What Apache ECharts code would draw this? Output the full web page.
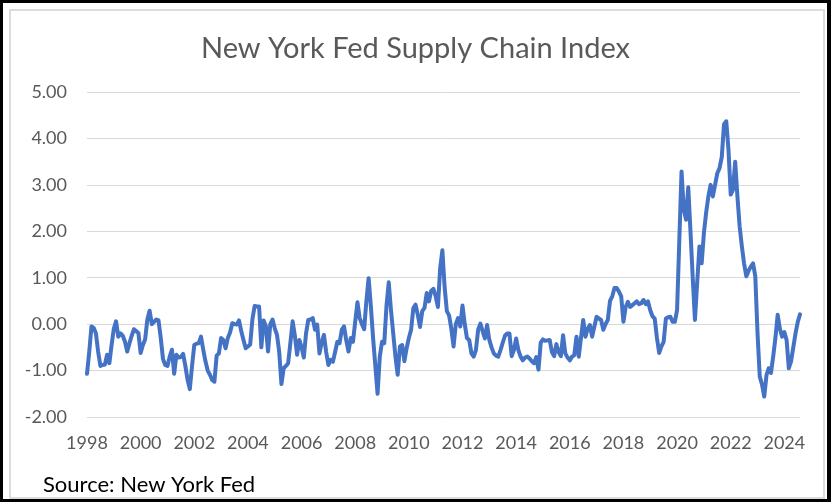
<!DOCTYPE html>
<html><head><meta charset="utf-8">
<script src="https://cdn.jsdelivr.net/npm/echarts@6/dist/echarts.min.js"></script>
<style>
html,body{margin:0;padding:0;background:#000;width:831px;height:502px;overflow:hidden;}
#frame{position:absolute;left:3px;top:3px;width:824px;height:496px;background:#fff;}
#inner{position:absolute;left:9px;top:9px;width:816px;height:490px;border:2px solid #dcdcdc;box-sizing:border-box;}
#c{position:absolute;left:0;top:0;width:831px;height:502px;}
</style>
</head><body>
<div id="frame"></div><div id="inner"></div>
<div id="c"></div>
<script>
// Tick label years (every two years)
const tickYears = ['1998','2000','2002','2004','2006','2008','2010','2012','2014','2016','2018','2020','2022','2024'];

// Monthly index values
const v1998 = [-1.07,-0.6,-0.05,-0.08,-0.2,-0.6,-0.9,-0.88,-0.87,-0.66,-0.84,-0.45];
const v1999 = [-0.1,0.06,-0.27,-0.2,-0.25,-0.38,-0.59,-0.41,-0.25,-0.11,-0.15,-0.19];
const v2000 = [-0.62,-0.45,-0.33,0.1,0.29,0.0,0.05,0.1,0.08,-0.3,-0.75,-0.88];
const v2001 = [-0.9,-0.7,-0.55,-1.07,-0.66,-0.72,-0.71,-0.64,-0.9,-1.2,-1.4,-0.9];
const v2002 = [-0.45,-0.42,-0.41,-0.27,-0.55,-0.8,-1.0,-1.09,-1.2,-1.24,-0.68,-0.63];
const v2003 = [-0.3,-0.34,-0.52,-0.3,-0.18,0.02,0.0,-0.01,0.08,-0.15,-0.34,-0.52];
const v2004 = [-0.48,-0.44,0.1,0.39,0.38,0.38,-0.5,0.08,-0.04,-0.59,0.0,0.1];
const v2005 = [-0.09,-0.23,-0.6,-1.29,-0.95,-0.9,-0.84,-0.4,0.06,-0.25,-0.66,-0.34];
const v2006 = [-0.5,-0.72,-0.2,0.09,0.1,0.13,-0.12,-0.01,-0.63,-0.4,-0.23,-0.6];
const v2007 = [-0.88,-0.77,-0.81,-0.6,-0.38,-0.41,-0.12,-0.05,-0.35,-0.59,-0.3,-0.38];
const v2008 = [0.05,0.47,0.13,0.0,-0.11,0.5,0.99,0.38,-0.3,-0.9,-1.5,-0.7];
const v2009 = [-0.38,-0.41,0.4,0.9,0.3,-0.2,-0.7,-1.09,-0.48,-0.45,-0.8,-0.52];
const v2010 = [-0.3,-0.12,0.34,0.42,0.2,-0.06,0.28,0.35,0.67,0.49,0.72,0.76];
const v2011 = [0.6,0.37,1.2,1.59,0.8,0.28,0.19,-0.1,-0.48,0.0,0.13,-0.05];
const v2012 = [0.4,0.0,-0.3,-0.34,-0.63,-0.7,-0.56,-0.12,0.01,-0.15,-0.31,-0.02];
const v2013 = [-0.34,-0.5,-0.63,-0.68,-0.7,-0.56,-0.4,-0.25,-0.2,-0.2,-0.69,-0.56];
const v2014 = [-0.31,-0.56,-0.7,-0.78,-0.72,-0.7,-0.74,-0.8,-0.84,-0.71,-0.98,-0.4];
const v2015 = [-0.33,-0.36,-0.35,-0.34,-0.6,-0.69,-0.43,-0.6,-0.69,-0.24,-0.63,-0.72];
const v2016 = [-0.78,-0.7,-0.67,-0.27,-0.7,-0.3,0.09,-0.27,-0.1,-0.02,-0.27,-0.05];
const v2017 = [0.16,0.12,0.09,-0.12,0.0,0.09,0.5,0.6,0.78,0.78,0.7,0.6];
const v2018 = [0.05,0.37,0.48,0.37,0.41,0.45,0.49,0.43,0.45,0.52,0.43,0.49];
const v2019 = [0.3,0.17,0.12,-0.3,-0.62,-0.48,-0.38,0.12,0.15,0.16,0.05,0.05];
const v2020 = [0.3,1.8,3.29,2.47,2.25,2.95,2.0,1.0,0.09,0.9,1.67,1.31];
const v2021 = [1.96,2.4,2.75,3.0,2.75,3.0,3.25,3.36,3.6,4.3,4.37,3.76];
const v2022 = [2.79,2.89,3.5,2.75,2.1,1.67,1.3,1.03,1.15,1.24,1.31,1.03];
const v2023 = [-0.2,-1.13,-1.3,-1.56,-1.1,-0.95,-1.05,-0.7,-0.3,0.2,-0.1,-0.27];
const v2024 = [-0.17,-0.34,-0.95,-0.8,-0.5,-0.2,0.05,0.21];

const yearly = [v1998,v1999,v2000,v2001,v2002,v2003,v2004,v2005,v2006,v2007,v2008,v2009,v2010,v2011,v2012,v2013,v2014,v2015,v2016,v2017,v2018,v2019,v2020,v2021,v2022,v2023,v2024];
const values = [];
const months = [];
yearly.forEach((arr, k) => {
  const y = 1998 + k;
  arr.forEach((v, m) => {
    values.push(v);
    months.push(y + '-' + String(m + 1).padStart(2, '0'));
  });
});

const FONT = 'Lato, "Open Sans", sans-serif';
const chart = echarts.init(document.getElementById('c'), null, {renderer: 'canvas'});
chart.setOption({
  animation: false,
  backgroundColor: 'transparent',
  title: [
    {text: 'New York Fed Supply Chain Index', left: 'center', top: 29,
     textStyle: {fontFamily: FONT, fontSize: 29, fontWeight: 'normal', color: '#595959'}},
    {text: 'Source: New York Fed', left: 38, top: 469,
     textStyle: {fontFamily: FONT, fontSize: 22, fontWeight: 'normal', color: '#000'}}
  ],
  grid: {left: 87, right: 31, top: 92, bottom: 85, containLabel: false},
  xAxis: {
    type: 'category', data: months, boundaryGap: false,
    axisLine: {show: false}, axisTick: {show: false},
    axisLabel: {
      interval: 23, margin: 17, fontFamily: FONT, fontSize: 18, color: '#595959',
      formatter: (v) => { const y = v.slice(0, 4); return tickYears.indexOf(y) >= 0 ? y : ''; }
    },
    splitLine: {show: false}
  },
  yAxis: {
    type: 'value', min: -2, max: 5, interval: 1,
    axisLine: {show: false}, axisTick: {show: false},
    axisLabel: {margin: 20, fontFamily: FONT, fontSize: 18, color: '#595959',
      formatter: (v) => v.toFixed(2)},
    splitLine: {lineStyle: {color: '#d9d9d9', width: 1}}
  },
  series: [{
    type: 'line', data: values, showSymbol: false, smooth: false,
    lineStyle: {color: '#4472C4', width: 4, join: 'round', cap: 'round'},
    itemStyle: {color: '#4472C4'}
  }]
});
</script>
</body></html>
